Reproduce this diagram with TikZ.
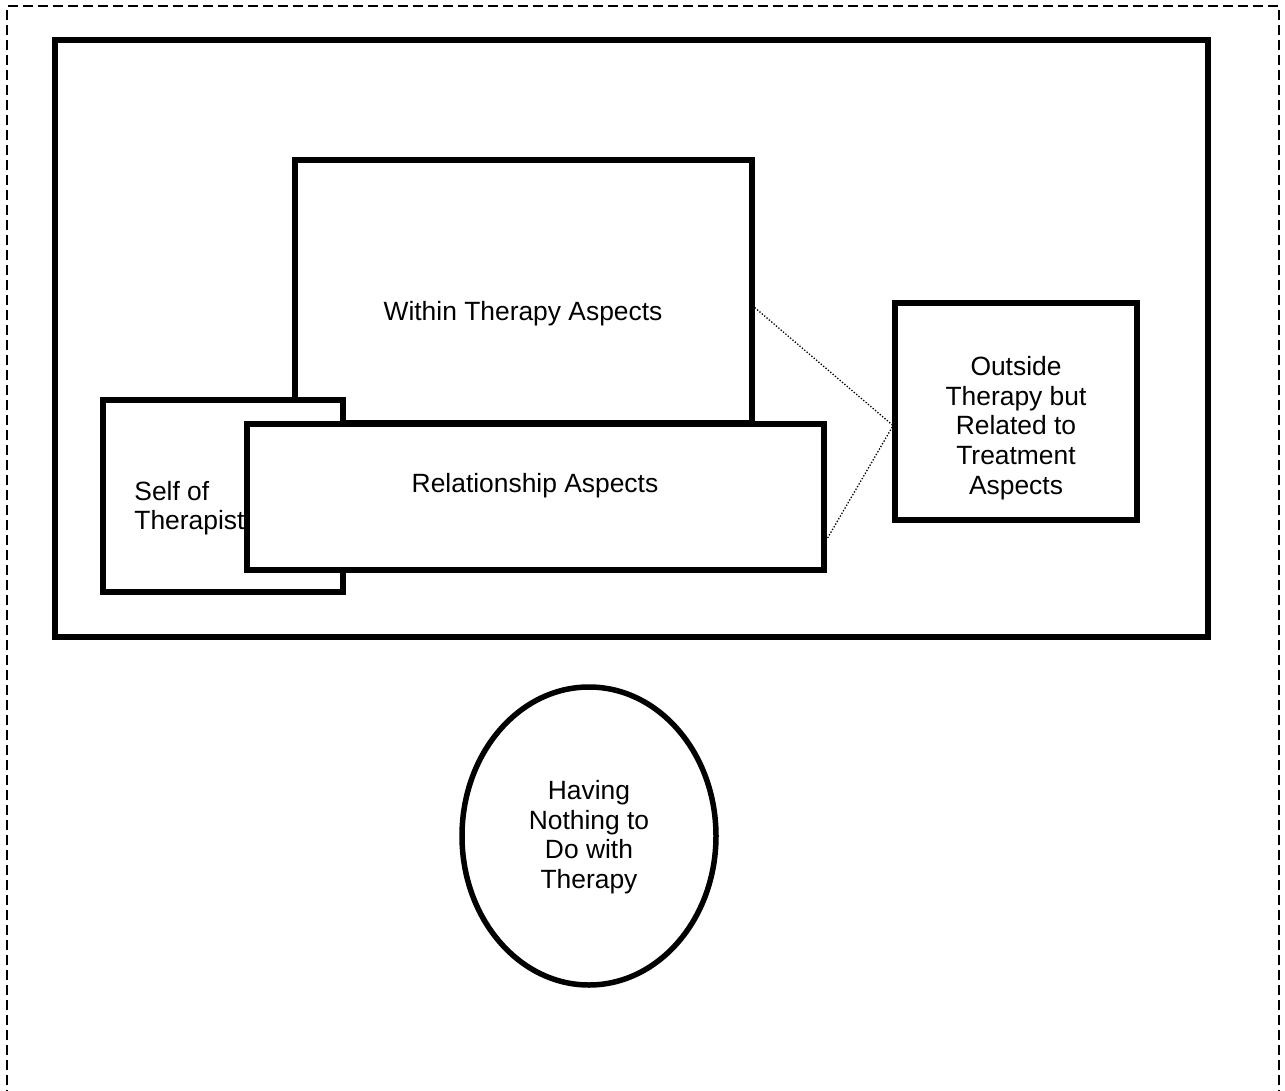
\documentclass[tikz,border=0pt]{standalone}
\usepackage{fontspec}
\setmainfont{Liberation Sans}
\usetikzlibrary{calc,shapes.geometric}

\tikzset{
  aspect box/.style={draw, line width=2.75pt, fill=white, rectangle, inner sep=0pt},
  aspect text/.style={inner sep=0pt, align=center, font=\fontsize{13.2}{14.8}\selectfont},
  link/.style={line width=0.65pt, dash pattern=on 0.65pt off 0.9pt},
}

\begin{document}
\begin{tikzpicture}[x=0.5pt,y=-0.5pt]
\useasboundingbox (0,0) rectangle (1285,1091);

% page frame, open at the bottom
\draw[line width=0.75pt, dash pattern=on 5pt off 2.5pt] (7,1130) rectangle (1279,6);

% therapy frame
\node[aspect box, fill=none, minimum width=576.5pt, minimum height=298.5pt]
  (therapy) at (631.5,338.5) {};

% within therapy
\node[aspect box, minimum width=228.5pt, minimum height=131.5pt]
  (within) at (523.5,291.5) {};

% self of therapist
\node[aspect box, minimum width=120pt, minimum height=96pt]
  (self) at (223,496) {};

% relationship
\node[aspect box, minimum width=288.5pt, minimum height=73pt]
  (relationship) at (535.5,497) {};

% outside therapy
\node[aspect box, minimum width=121pt, minimum height=108.5pt]
  (outside) at (1016,411.5) {};

% nothing to do with therapy
\node[draw, ellipse, line width=2.75pt, inner sep=0pt,
  minimum width=127pt, minimum height=149pt] (nothing) at (589,836) {};

\draw[link] ($(within.north east)!0.56!(within.south east)$)
  -- ($(outside.north west)!0.56!(outside.south west)$);
\draw[link] ($(outside.north west)!0.57!(outside.south west)$)
  -- ($(relationship.north east)!0.78!(relationship.south east)$);

\node[aspect text] (within-text) at (523,314) {Within Therapy Aspects};
\node[aspect text] (relationship-text) at (535,486) {Relationship Aspects};
\node[aspect text, align=left, anchor=west] (self-text) at (134,508)
  {Self of\\Therapist};
\node[aspect text] (outside-text) at (1016,428)
  {Outside\\Therapy but\\Related to\\Treatment\\Aspects};
\node[aspect text] (nothing-text) at (589,837)
  {Having\\Nothing to\\Do with\\Therapy};

\end{tikzpicture}
\end{document}
